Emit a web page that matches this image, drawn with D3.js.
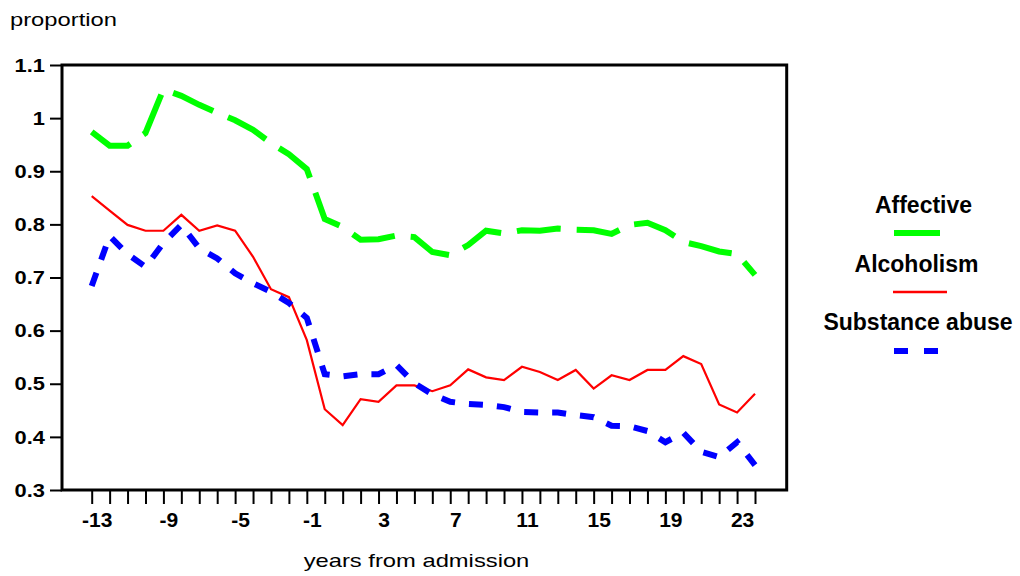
<!DOCTYPE html>
<html><head><meta charset="utf-8">
<script src="https://cdn.jsdelivr.net/npm/d3@7"></script>
<style>body{margin:0;background:#fff}svg{display:block}</style>
</head><body>
<svg id="chart" width="1020" height="576"></svg>
<script>
// ---- data ----
const years = [-13,-12,-11,-10,-9,-8,-7,-6,-5,-4,-3,-2,-1,0,1,2,3,4,5,6,7,8,9,10,11,12,13,14,15,16,17,18,19,20,21,22,23,24];
const affective = [0.974,0.948,0.948,0.972,1.054,1.042,1.025,1.010,0.996,0.978,0.953,0.932,0.904,0.810,0.795,0.771,0.772,0.779,0.776,0.748,0.742,0.761,0.788,0.783,0.789,0.788,0.792,0.790,0.789,0.782,0.799,0.803,0.789,0.767,0.759,0.749,0.744,0.705];
const alcoholism = [0.853,0.826,0.799,0.788,0.788,0.818,0.788,0.798,0.788,0.739,0.678,0.663,0.582,0.452,0.422,0.471,0.466,0.497,0.497,0.486,0.497,0.527,0.512,0.507,0.532,0.522,0.507,0.526,0.491,0.516,0.507,0.526,0.526,0.552,0.537,0.461,0.446,0.481];
const substance = [0.684,0.778,0.744,0.720,0.765,0.799,0.755,0.736,0.708,0.689,0.673,0.652,0.624,0.518,0.514,0.518,0.518,0.535,0.501,0.480,0.466,0.462,0.460,0.456,0.447,0.446,0.446,0.441,0.437,0.421,0.420,0.411,0.390,0.408,0.372,0.362,0.390,0.347];
const xTickLabels = [-13,-9,-5,-1,3,7,11,15,19,23];
const yTicks = [0.3,0.4,0.5,0.6,0.7,0.8,0.9,1.0,1.1];
const seriesNames = ["Affective","Alcoholism","Substance abuse"];

(function(){
// ---- styles ----
const styles = {
  "Affective": {color:"#00ff00", width:6, dash:"44,16"},
  "Alcoholism": {color:"#ff0000", width:2.2, dash:null},
  "Substance abuse": {color:"#0000ff", width:6, dash:"14,14"}
};
const seriesData = {"Affective":affective, "Alcoholism":alcoholism, "Substance abuse":substance};

const svg = d3.select("#chart");
const FONT = "'Liberation Sans', Arial, Helvetica, sans-serif";
const pL = 62, pR = 786.7, pT = 65, pB = 490;
const x = d3.scaleLinear().domain([-13, 24]).range([91.7, 755]);
const y = d3.scaleLinear().domain([0.3, 1.1]).range([pB, pT]);

// lines
const line = d3.line().x((d,i)=>x(years[i])).y(d=>y(d));
seriesNames.forEach(name=>{
  const s = styles[name];
  svg.append("path").datum(seriesData[name])
    .attr("d", line)
    .attr("fill","none")
    .attr("stroke", s.color)
    .attr("stroke-width", s.width)
    .attr("stroke-linecap","butt")
    .attr("stroke-linejoin","miter")
    .attr("stroke-dasharray", s.dash);
});

// frame
svg.append("rect").attr("x",pL).attr("y",pT).attr("width",pR-pL).attr("height",pB-pT)
  .attr("fill","none").attr("stroke","#000").attr("stroke-width",3);

// y axis
const yAxis = svg.append("g").attr("transform",`translate(${pL},0)`)
  .call(d3.axisLeft(y).tickValues(yTicks).tickSize(12).tickFormat(d=>String(+d.toFixed(1))));
yAxis.select(".domain").remove();
yAxis.selectAll(".tick line").attr("stroke","#000").attr("stroke-width",2);
yAxis.selectAll(".tick text")
  .attr("x",0).attr("dy","0.35em")
  .attr("transform","translate(-17,0) scale(1.25,1)")
  .attr("text-anchor","end")
  .style("font-family",FONT).style("font-weight","bold").style("font-size","17.5px").attr("fill","#000");

// x axis
const labelSet = new Set(xTickLabels);
const xAxis = svg.append("g").attr("transform",`translate(0,${pB})`)
  .call(d3.axisBottom(x).tickValues(years).tickSize(14).tickFormat(d=>labelSet.has(d)?String(d):""));
xAxis.select(".domain").remove();
xAxis.selectAll(".tick line").attr("stroke","#000").attr("stroke-width",2);
xAxis.selectAll(".tick text")
  .attr("y",37).attr("dy",0).attr("dx",5)
  .attr("text-anchor","middle")
  .style("font-family",FONT).style("font-weight","bold").style("font-size","21px").attr("fill","#000");

// axis titles
svg.append("g").attr("transform","translate(10,26) scale(1.25,1)")
  .append("text").text("proportion")
  .style("font-family",FONT).style("font-size","19px").attr("fill","#000");
svg.append("g").attr("transform","translate(416.5,567) scale(1.25,1)")
  .append("text").text("years from admission").attr("text-anchor","middle")
  .style("font-family",FONT).style("font-size","19px").attr("fill","#000");

// legend
const legendPos = {
  "Affective": {tx:923.5, ty:213, ly:233, x1:894, x2:940},
  "Alcoholism": {tx:916.5, ty:272, ly:292, x1:893, x2:947},
  "Substance abuse": {tx:918, ty:330, ly:351, x1:894, x2:940}
};
const lg = svg.append("g").attr("class","legend");
seriesNames.forEach(name=>{
  const p = legendPos[name], s = styles[name];
  lg.append("text").attr("x",p.tx).attr("y",p.ty).attr("text-anchor","middle").text(name)
    .style("font-family",FONT).style("font-weight","bold").style("font-size","23px").attr("fill","#000");
  lg.append("line").attr("x1",p.x1).attr("x2",p.x2).attr("y1",p.ly).attr("y2",p.ly)
    .attr("stroke",s.color).attr("stroke-width", name==="Alcoholism"?2.5:s.width)
    .attr("stroke-dasharray", name==="Substance abuse" ? "14,16" : null);
});
})();
</script>
</body></html>
